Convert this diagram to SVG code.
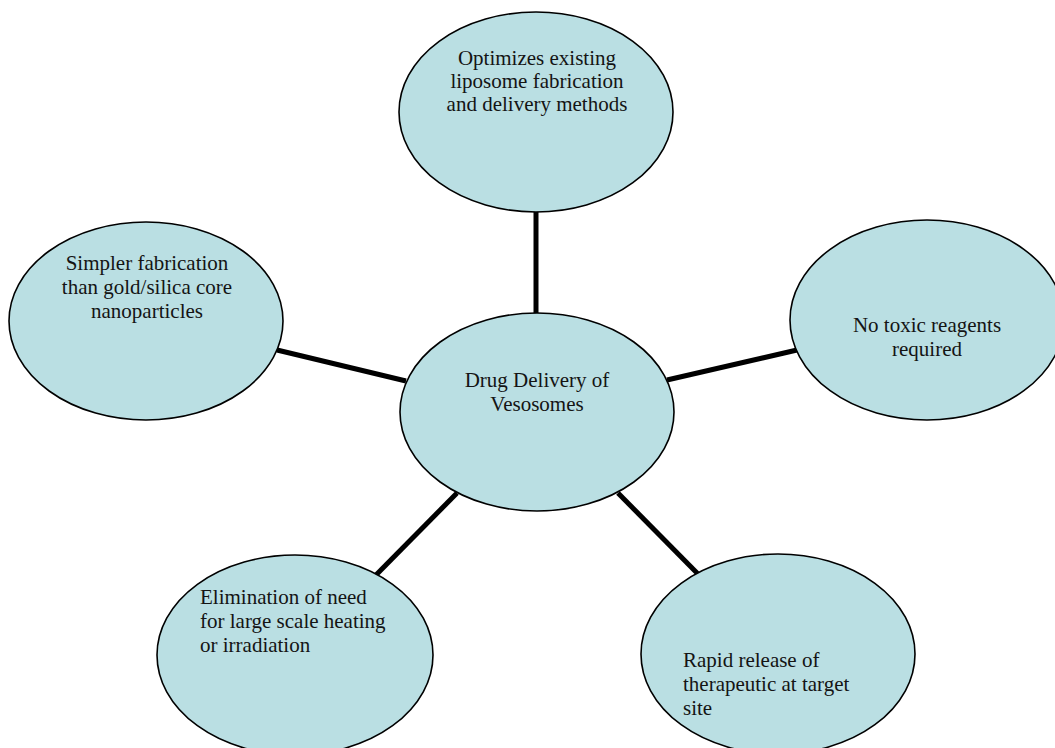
<svg xmlns="http://www.w3.org/2000/svg" width="1055" height="748" viewBox="0 0 1055 748">
<style>
.node ellipse{fill:#badfe3;stroke:#000;stroke-width:1.6}
text{font-family:"Liberation Serif","Times New Roman",serif;font-size:21px;fill:#141414}
.c{text-anchor:middle}
#connectors line{stroke:#000;stroke-width:5;stroke-linecap:butt}
</style>
<rect width="1055" height="748" fill="#fff"/>
<g id="connectors">
<line x1="536" y1="210" x2="536" y2="314"/>
<line x1="277" y1="350" x2="406" y2="381"/>
<line x1="667" y1="380" x2="797" y2="350"/>
<line x1="457" y1="493" x2="376" y2="575"/>
<line x1="618" y1="493" x2="698" y2="574"/>
</g>
<g id="node-top" class="node">
<ellipse cx="536" cy="112" rx="137" ry="100"/>
<text class="c" x="537" y="65">Optimizes existing</text>
<text class="c" x="537" y="88">liposome fabrication</text>
<text class="c" x="537" y="111">and delivery methods</text>
</g>
<g id="node-left" class="node">
<ellipse cx="146" cy="321" rx="137" ry="99"/>
<text class="c" x="147" y="270">Simpler fabrication</text>
<text class="c" x="147" y="294">than gold/silica core</text>
<text class="c" x="147" y="318">nanoparticles</text>
</g>
<g id="node-right" class="node">
<ellipse cx="927" cy="320" rx="137" ry="100"/>
<text class="c" x="927" y="332">No toxic reagents</text>
<text class="c" x="927" y="356">required</text>
</g>
<g id="node-center" class="node">
<ellipse cx="537" cy="412" rx="137" ry="99"/>
<text class="c" x="537" y="387">Drug Delivery of</text>
<text class="c" x="537" y="411">Vesosomes</text>
</g>
<g id="node-bottom-left" class="node">
<ellipse cx="295" cy="655" rx="138" ry="100"/>
<text x="200" y="604">Elimination of need</text>
<text x="200" y="628">for large scale heating</text>
<text x="200" y="652">or irradiation</text>
</g>
<g id="node-bottom-right" class="node">
<ellipse cx="778" cy="654" rx="137" ry="100"/>
<text x="683" y="667">Rapid release of</text>
<text x="683" y="691">therapeutic at target</text>
<text x="683" y="715">site</text>
</g>
</svg>
